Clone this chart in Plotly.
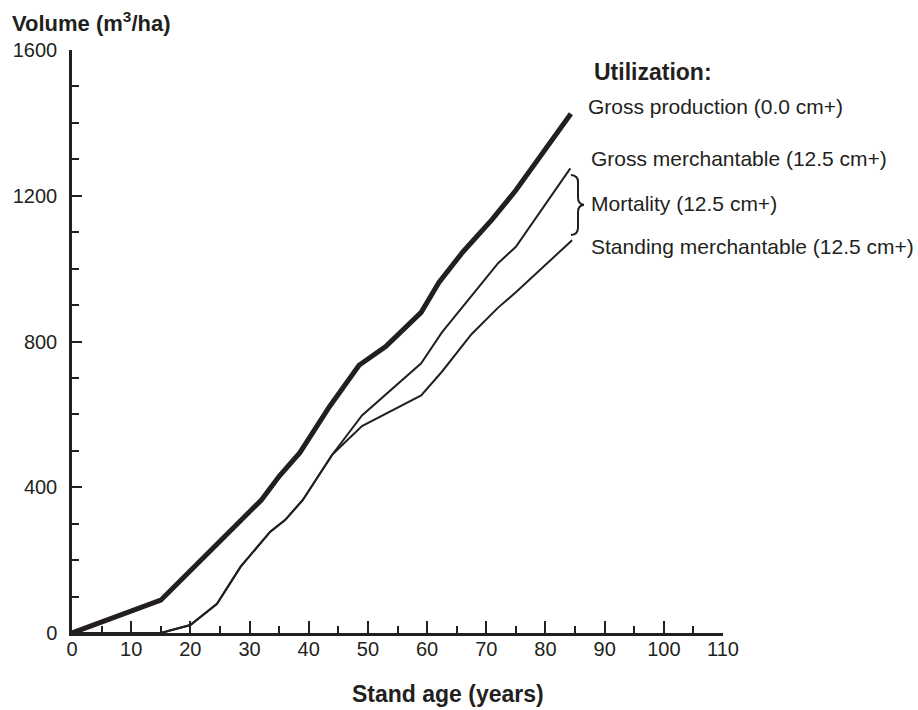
import plotly.graph_objects as go

# ---- data ----
gp_age = [0, 15, 25, 32, 35, 38.5, 43.5, 48.5, 53, 59, 62, 66, 71, 75, 84.3]
gp_vol = [0, 90, 252, 365, 430, 495, 621, 735, 786, 880, 962, 1045, 1135, 1215, 1425]

gm_age = [0, 15, 20, 24.5, 28.5, 33.5, 36, 39, 44, 49, 59, 62.5, 72, 75, 84.2]
gm_vol = [0, 0, 22, 80, 182, 278, 310, 365, 490, 597, 740, 825, 1015, 1060, 1275]

sm_age = [0, 15, 20, 24.5, 28.5, 33.5, 36, 39, 44, 49, 59, 62.5, 67.5, 72, 75, 84.5]
sm_vol = [0, 0, 22, 80, 182, 278, 310, 365, 490, 568, 652, 717, 820, 893, 935, 1078]

x_ticks = [0, 10, 20, 30, 40, 50, 60, 70, 80, 90, 100, 110]
y_ticks = [0, 400, 800, 1200, 1600]

labels = [
    "Gross production (0.0 cm+)",
    "Gross merchantable (12.5 cm+)",
    "Mortality (12.5 cm+)",
    "Standing merchantable (12.5 cm+)",
]

INK = "#231f20"
FONT = "Liberation Sans, Arial, sans-serif"

fig = go.Figure()
fig.add_trace(go.Scatter(x=gp_age, y=gp_vol, mode="lines",
                         line=dict(color=INK, width=5), name=labels[0]))
fig.add_trace(go.Scatter(x=gm_age, y=gm_vol, mode="lines",
                         line=dict(color=INK, width=2), name=labels[1]))
fig.add_trace(go.Scatter(x=sm_age, y=sm_vol, mode="lines",
                         line=dict(color=INK, width=2), name=labels[3]))

OFF = 0  # body margin removed via post_script
W, H = 918, 710
# screen-pixel frame of the plot area
SX0, SX1, SY0, SY1 = 72, 723, 50, 633
L, T = SX0 - OFF, SY0 - OFF
R = W - L - (SX1 - SX0)
B = H - T - (SY1 - SY0)
pw, ph = SX1 - SX0, SY1 - SY0


def px(xs):
    return (xs - SX0) / pw


def py(ys):
    return (SY1 - ys) / ph


ann = []
ann.append(dict(text="<b>Volume (m<sup>3</sup>/ha)</b>",
                x=px(10), y=py(22),
                xanchor="left", yanchor="middle", font=dict(size=22)))
ann.append(dict(text="<b>Stand age (years)</b>", x=px(448), y=py(694),
                xanchor="center", yanchor="middle", font=dict(size=23)))
ann.append(dict(text="<b>Utilization:</b>", x=px(592), y=py(72),
                xanchor="left", yanchor="middle", font=dict(size=23)))
ann.append(dict(text=labels[0], x=px(586), y=py(106),
                xanchor="left", yanchor="middle", font=dict(size=21)))
ann.append(dict(text=labels[1], x=px(589), y=py(158),
                xanchor="left", yanchor="middle", font=dict(size=21)))
ann.append(dict(text=labels[2], x=px(589), y=py(203),
                xanchor="left", yanchor="middle", font=dict(size=21)))
ann.append(dict(text=labels[3], x=px(589), y=py(246),
                xanchor="left", yanchor="middle", font=dict(size=21)))
for a in ann:
    a.update(xref="paper", yref="paper", showarrow=False)
    a["font"].update(color=INK, family=FONT)

# curly bracket (decoration) in data coordinates
bracket = ("M 84.3,1257 Q 85.5,1256 85.5,1238 L 85.5,1195 "
           "Q 85.5,1177 86.5,1175 Q 85.5,1173 85.5,1155 "
           "L 85.5,1112 Q 85.5,1093 84.3,1092")

fig.update_layout(
    width=W, height=H,
    margin=dict(l=L, r=R, t=T, b=B, pad=0),
    paper_bgcolor="white", plot_bgcolor="white",
    showlegend=False,
    font=dict(family=FONT, color=INK, size=20),
    annotations=ann,
    shapes=[dict(type="path", path=bracket, xref="x", yref="y",
                 line=dict(color=INK, width=2))],
    xaxis=dict(range=[0, 110], tickvals=x_ticks, ticks="inside", ticklen=12,
               tickwidth=1.5, tickcolor=INK, showline=True, linecolor=INK,
               linewidth=2.5, showgrid=False, zeroline=False,
               tickfont=dict(size=20, color=INK), ticklabelstandoff=-4,
               minor=dict(dtick=5, tick0=0, ticks="inside", ticklen=7,
                          tickwidth=1.5, tickcolor=INK, showgrid=False)),
    yaxis=dict(range=[0, 1600], tickvals=y_ticks, ticks="inside", ticklen=10,
               tickwidth=1.5, tickcolor=INK, showline=True, linecolor=INK,
               linewidth=2.5, showgrid=False, zeroline=False,
               tickfont=dict(size=20, color=INK), ticklabelstandoff=8,
               minor=dict(dtick=100, tick0=0, ticks="inside", ticklen=7,
                          tickwidth=1.5, tickcolor=INK, showgrid=False)),
)

fig.write_html(
    "out.html",
    config={"displayModeBar": False},
    post_script="document.body.style.margin='0';document.body.style.overflow='hidden';",
)
